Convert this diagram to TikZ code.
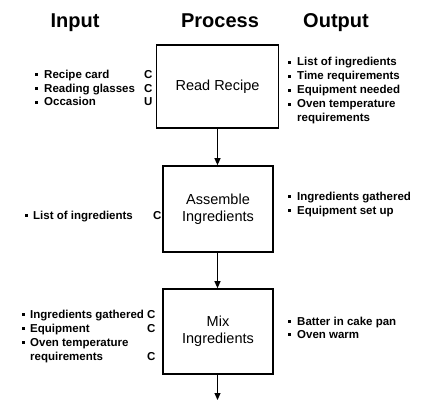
\documentclass[tikz,border=0pt]{standalone}
\usepackage{fontspec}
\setmainfont{Liberation Sans}
\usetikzlibrary{arrows.meta}
\newcommand{\bul}{\raisebox{2.4pt}{\rule{3pt}{3pt}}}
\tikzset{
  heading/.style={font=\bfseries\fontsize{20}{24}\selectfont, anchor=base, inner sep=0},
  procbox/.style={draw, line width=1.6pt, rectangle, align=center,
    font=\fontsize{14.5}{17}\selectfont, inner sep=0},
  itemlist/.style={anchor=base west, inner sep=0, align=left},
  flow/.style={line width=1pt, -{Triangle[width=6pt,length=7pt]}}
}
\begin{document}
\begin{tikzpicture}[x=1pt,y=-1pt]
  \useasboundingbox[fill=white] (0,0) rectangle (422,401);

  % column headings
  \node[heading] (hin)  at (75,28)  {Input};
  \node[heading] (hpro) at (220,28) {Process};
  \node[heading] (hout) at (336,28) {Output};

  % process steps
  \node[procbox, minimum width=122pt, minimum height=83pt] (read) at (217.5,86.5) {Read Recipe};
  \node[procbox, minimum width=110pt, minimum height=86pt] (assemble) at (218,209) {Assemble\\Ingredients};
  \node[procbox, minimum width=110pt, minimum height=85pt] (mix) at (218,331.5) {Mix\\Ingredients};
  \coordinate (next) at (217.5,400);

  \draw[flow] (read.south) -- (assemble.north -| read.south);
  \draw[flow] (assemble.south -| read.south) -- (mix.north -| read.south);
  \draw[flow] (mix.south -| next) -- (next);

  % inputs
  \node[itemlist] (in1) at (35,78) {\bfseries\fontsize{11.5}{14}\selectfont
    \begin{tabular}[t]{@{}p{9pt}@{}p{100pt}@{}l@{}}
      \bul & Recipe card & C\\
      \bul & Reading glasses & C\\
      \bul & Occasion & U
    \end{tabular}};
  \node[itemlist] (in2) at (25,219) {\bfseries\fontsize{11.5}{14}\selectfont
    \begin{tabular}[t]{@{}p{8pt}@{}p{120pt}@{}l@{}}
      \bul & List of ingredients & C
    \end{tabular}};
  \node[itemlist] (in3) at (22,318) {\bfseries\fontsize{11.5}{14}\selectfont
    \begin{tabular}[t]{@{}p{8pt}@{}p{117pt}@{}l@{}}
      \bul & Ingredients gathered & C\\
      \bul & Equipment & C\\
      \bul & Oven temperature & \\
           & requirements & C
    \end{tabular}};

  % outputs
  \node[itemlist] (out1) at (288,66) {\bfseries\fontsize{11.5}{14}\selectfont
    \begin{tabular}[t]{@{}p{9pt}@{}l@{}}
      \bul & List of ingredients\\
      \bul & Time requirements\\
      \bul & Equipment needed\\
      \bul & Oven temperature\\
           & requirements
    \end{tabular}};
  \node[itemlist] (out2) at (288,200) {\bfseries\fontsize{11.5}{14}\selectfont
    \begin{tabular}[t]{@{}p{9pt}@{}l@{}}
      \bul & Ingredients gathered\\
      \bul & Equipment set up
    \end{tabular}};
  \node[itemlist] (out3) at (288,325) {\bfseries\fontsize{11.5}{13}\selectfont
    \begin{tabular}[t]{@{}p{9pt}@{}l@{}}
      \bul & Batter in cake pan\\
      \bul & Oven warm
    \end{tabular}};
\end{tikzpicture}
\end{document}
